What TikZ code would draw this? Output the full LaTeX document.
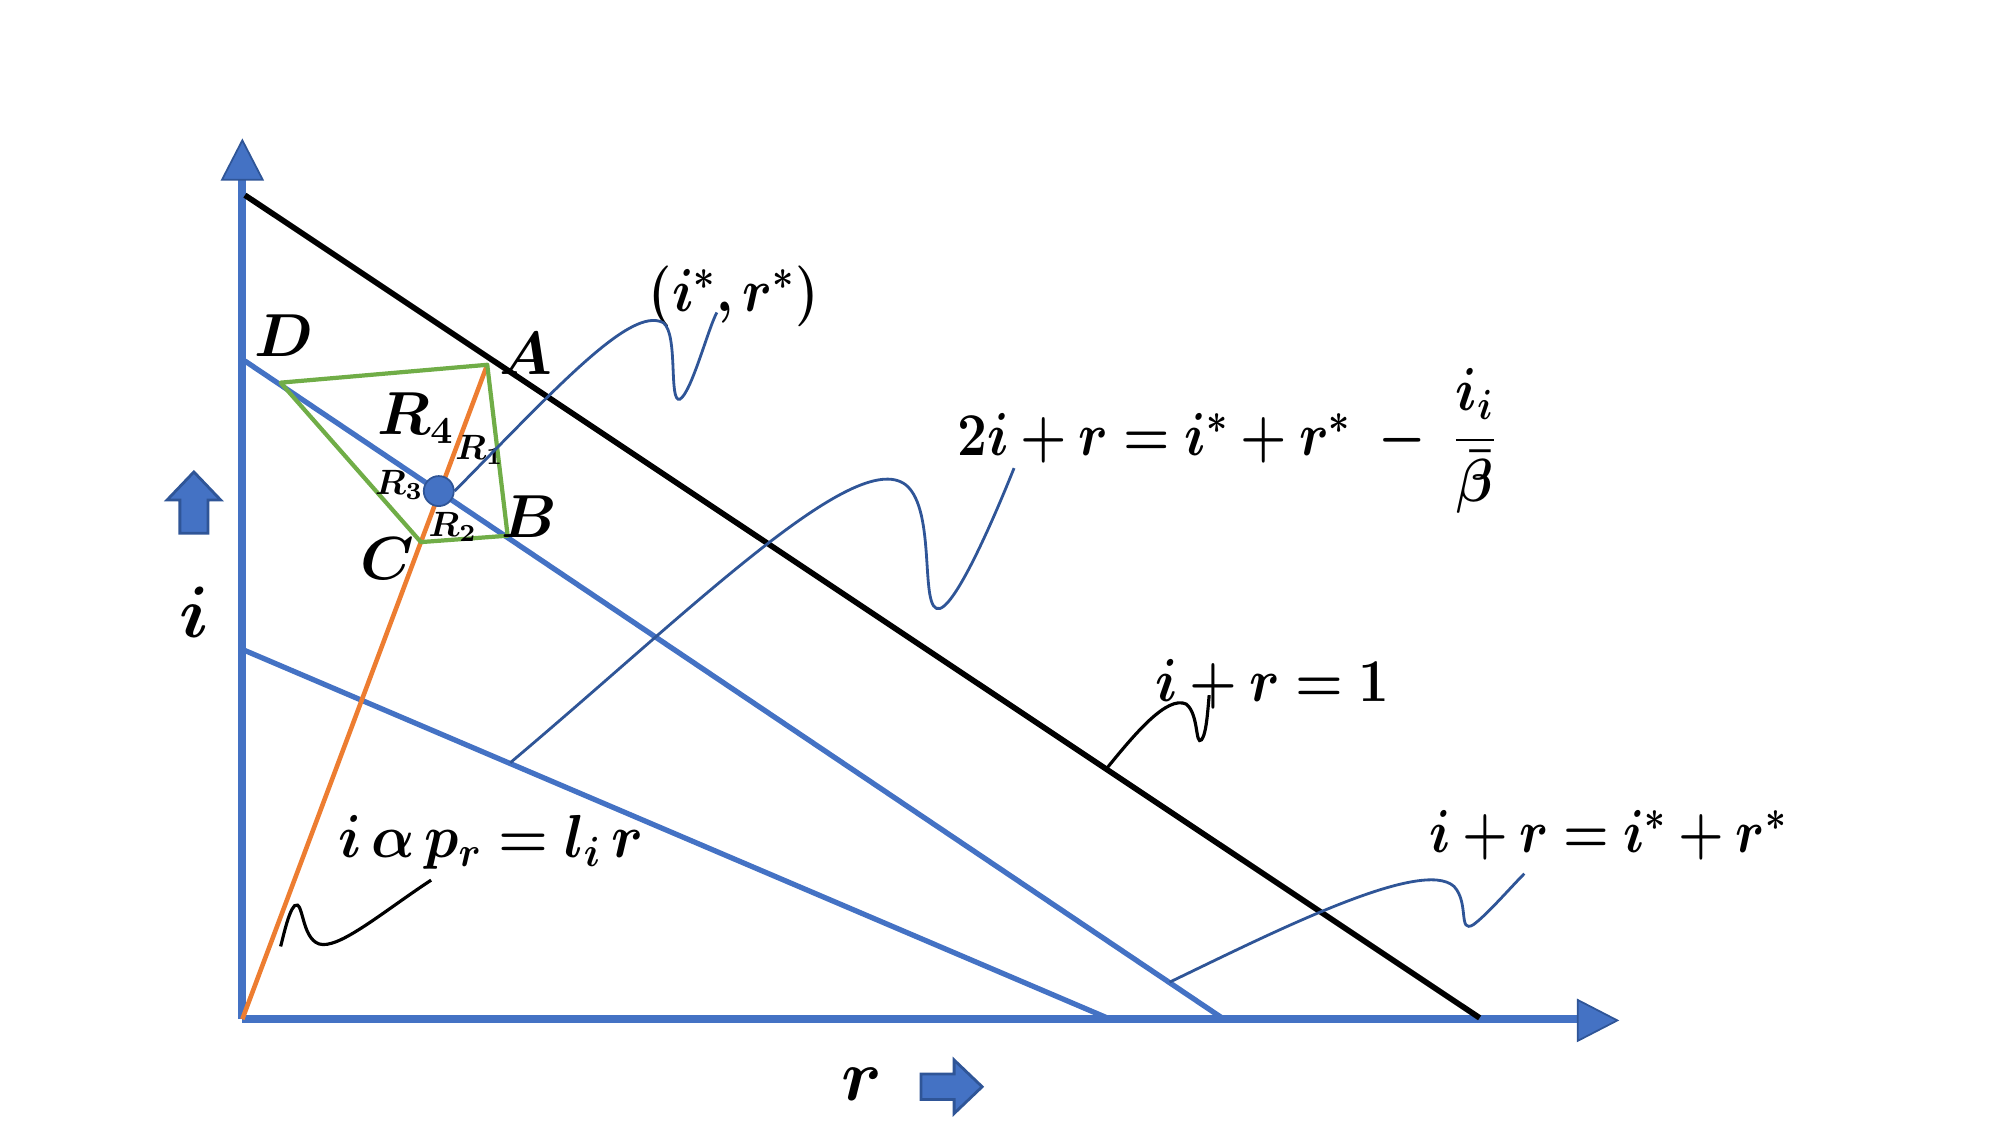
\documentclass[tikz,border=0pt]{standalone}
\usepackage{amsmath,bm}
\definecolor{axisblue}{HTML}{4472C4}
\definecolor{axisedge}{HTML}{2F5597}
\definecolor{calloutblue}{HTML}{2F5597}
\definecolor{orng}{HTML}{ED7D31}
\definecolor{grn}{HTML}{70AD47}
\begin{document}
\begin{tikzpicture}[x=0.012755cm,y=-0.012755cm,
  lbl/.style={font=\fontsize{17}{20}\selectfont, inner sep=0pt, text=black},
  ptlbl/.style={font=\fontsize{16}{19}\selectfont, inner sep=0pt},
  smlbl/.style={font=\fontsize{10}{12}\selectfont, inner sep=0pt},
  axlbl/.style={font=\fontsize{22}{26}\selectfont, inner sep=0pt},
  axisline/.style={axisblue, line width=2.3pt},
  axishead/.style={fill=axisblue, draw=axisedge, line width=0.5pt},
  blueline/.style={axisblue, line width=1.5pt},
  blackline/.style={black, line width=1.6pt},
  orangeline/.style={orng, line width=1.3pt},
  greenline/.style={grn, line width=1.2pt, line join=round},
  callout/.style={calloutblue, line width=0.8pt},
  calloutk/.style={black, line width=0.9pt},
  blockarrow/.style={fill=axisblue, draw=axisedge, line width=0.8pt}]
\path[use as bounding box] (0,0) rectangle (1568,882);

% coordinates
\coordinate (O) at (190,799);
\coordinate (Ytop) at (190,138);
\coordinate (Xend) at (1240,799);
\coordinate (K1) at (192,153);
\coordinate (K2) at (1160,798);
\coordinate (U1) at (192,283);
\coordinate (U2) at (958,798);
\coordinate (L1) at (192,510);
\coordinate (L2) at (868,798);
\coordinate (A) at (382,286);
\coordinate (B) at (398,420);
\coordinate (C) at (330,425);
\coordinate (D) at (220,300);

% axes
\draw[axisline] (O) -- (Ytop);
\draw[axisline] (O) -- (Xend);
\draw[axishead] (190,110) -- (206,141) -- (174,141) -- cycle;
\draw[axishead] (1268,800) -- (1237,784) -- (1237,816) -- cycle;

% lines
\draw[blackline] (K1) -- (K2);
\draw[blueline] (U1) -- (U2);
\draw[blueline] (L1) -- (L2);
\draw[orangeline] (O) -- (A);
\draw[greenline] (D) -- (A) -- (B) -- (C) -- cycle;

% equilibrium point
\node[circle, fill=axisblue, draw=axisedge, line width=0.5pt, minimum size=0.3cm, inner sep=0pt] (E) at (344,385) {};

% point labels
\node[ptlbl] (lA) at (412,277) {$\bm{A}$};
\node[ptlbl] (lB) at (415,405) {$\bm{B}$};
\node[ptlbl] (lC) at (304,438) {$\bm{C}$};
\node[ptlbl] (lD) at (223,263) {$\bm{D}$};
\node[ptlbl] (R4) at (326,328) {$\bm{R_4}$};
\node[smlbl] (R1) at (376,353) {$\bm{R_1}$};
\node[smlbl] (R3) at (313,380) {$\bm{R_3}$};
\node[smlbl] (R2) at (355,413) {$\bm{R_2}$};

% equation labels
\node[lbl, anchor=west] (eqstar) at (508,232) {\scalebox{0.88}[1]{$\bm{(i^*, r^*)}$}};
\node[lbl, anchor=base west] (eq2) at (750,357) {\scalebox{0.875}[1]{$\bm{2i + r = i^* + r^* \;-\; \dfrac{i_i}{\bar{\beta}}}$}};
\node[lbl, anchor=base west] (eq1) at (905,550) {\scalebox{0.9}[1]{$\bm{i + r = 1}$}};
\node[lbl, anchor=base west] (eq3) at (1120,668) {\scalebox{0.86}[1]{$\bm{i + r = i^* + r^*}$}};
\node[lbl, anchor=base west] (eq4) at (265,672) {\scalebox{0.94}[1]{$\bm{i\,\alpha\,p_r = l_i\,r}$}};

% callouts
\draw[callout] (E.east) .. controls (440,300) and (495,240) .. (520,253)
  .. controls (532,262) and (524,316) .. (533,313)
  .. controls (542,308) and (555,258) .. (562,245);
\draw[callout] (400,598) .. controls (540,480) and (670,350) .. (710,380)
  .. controls (735,400) and (720,482) .. (737,477)
  .. controls (752,472) and (785,392) .. (795,367);
\draw[calloutk] (868,602) .. controls (890,575) and (915,545) .. (930,552)
  .. controls (940,560) and (937,585) .. (942,580)
  .. controls (946,575) and (947,555) .. (948,545);
\draw[callout] (917,770) .. controls (1000,730) and (1115,672) .. (1140,695)
  .. controls (1152,708) and (1143,732) .. (1155,725)
  .. controls (1165,718) and (1185,695) .. (1195,685);
\draw[calloutk] (338,690) .. controls (300,715) and (265,745) .. (250,740)
  .. controls (236,735) and (238,705) .. (231,710)
  .. controls (226,715) and (222,735) .. (220,742);

% axis labels
\node[axlbl] (li) at (152,480) {$\bm{i}$};
\node[axlbl] (lr) at (676,850) {$\bm{r}$};

% block arrows
\draw[blockarrow] (152,370) -- (173,392) -- (163,392) -- (163,418) -- (141,418) -- (141,392) -- (131,392) -- cycle;
\draw[blockarrow] (770,852) -- (748,873) -- (748,862) -- (722,862) -- (722,842) -- (748,842) -- (748,831) -- cycle;
\end{tikzpicture}
\end{document}
